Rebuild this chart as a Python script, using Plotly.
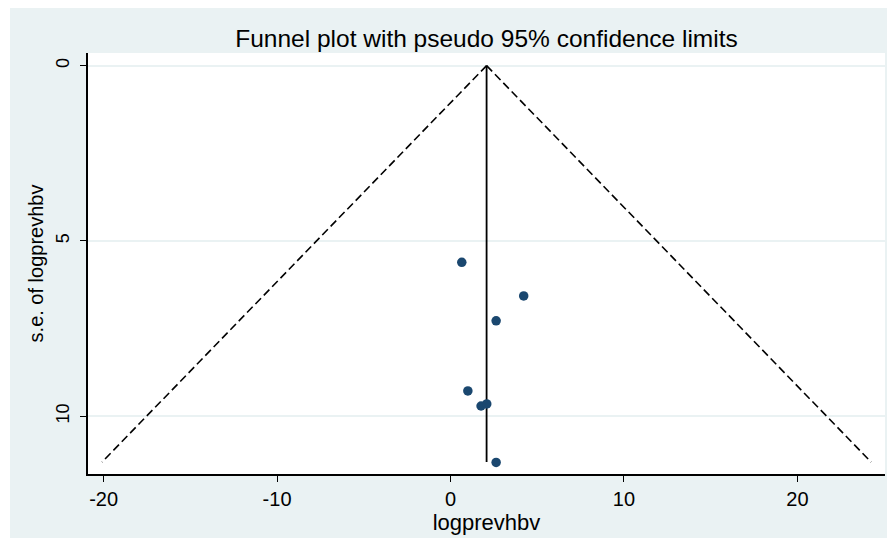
import plotly.graph_objects as go

# Study estimates (logprevhbv) and their standard errors
study_effect = [0.65, 4.22, 2.63, 1.00, 1.76, 2.09, 2.63]
study_se = [5.61, 6.57, 7.28, 9.28, 9.71, 9.65, 11.32]

# Pooled estimate line and pseudo 95% confidence limits
pooled_x = [2.08, 2.08]
pooled_se = [0.0, 11.31]
lower_x = [2.08, -20.09]
upper_x = [2.08, 24.25]
limit_se = [0.0, 11.31]

x_ticks = [-20, -10, 0, 10, 20]
x_tick_labels = ["-20", "-10", "0", "10", "20"]
y_ticks = [0, 5, 10]
y_tick_labels = ["0", "5", "10"]

BG = "#eaf2f3"
NAVY = "#1a476f"
FONT = "Liberation Sans, Arial, sans-serif"

W, H = 887, 530
L, R, T, B = 80, 10, 45, 64

fig = go.Figure()
fig.add_trace(go.Scatter(x=lower_x, y=limit_se, mode="lines",
                         line=dict(color="black", width=1.6, dash="8px,4px"),
                         hoverinfo="skip", showlegend=False))
fig.add_trace(go.Scatter(x=upper_x, y=limit_se, mode="lines",
                         line=dict(color="black", width=1.6, dash="8px,4px"),
                         hoverinfo="skip", showlegend=False))
fig.add_trace(go.Scatter(x=pooled_x, y=pooled_se, mode="lines",
                         line=dict(color="black", width=1.8),
                         hoverinfo="skip", showlegend=False))
fig.add_trace(go.Scatter(x=study_effect, y=study_se, mode="markers",
                         marker=dict(color=NAVY, size=9.5, line=dict(width=0)),
                         showlegend=False))

pw = W - L - R
ph = H - T - B
# thin white strip at left edge (reference border is slightly wider on the left)
fig.add_shape(type="rect", xref="paper", yref="paper",
              x0=-L / pw, x1=(2 - L) / pw, y0=-B / ph, y1=(H - B) / ph,
              fillcolor="white", line=dict(width=0), layer="below")
fig.add_shape(type="rect", xref="paper", yref="paper",
              x0=0, x1=1, y0=0, y1=1,
              fillcolor="white", line=dict(width=0), layer="below")

fig.update_layout(
    width=W, height=H,
    margin=dict(l=L, r=R, t=T, b=B),
    paper_bgcolor=BG, plot_bgcolor="white",
    font=dict(family=FONT, color="black"),
    title=dict(text="Funnel plot with pseudo 95% confidence limits",
               x=(L + pw / 2) / W, xanchor="center",
               y=1 - 30 / H, yanchor="middle", yref="container",
               font=dict(size=24.5, family=FONT, color="black")),
    xaxis=dict(range=[-20.9, 25.05], tickvals=x_ticks, ticktext=x_tick_labels,
               ticks="outside", ticklen=6, tickwidth=1.3, tickcolor="black",
               showline=True, linecolor="black", linewidth=1.5,
               showgrid=False, zeroline=False,
               tickfont=dict(size=20),
               title=dict(text="logprevhbv", font=dict(size=22), standoff=0)),
    yaxis=dict(range=[11.65, -0.36], tickvals=y_ticks, ticktext=y_tick_labels,
               tickangle=-90, ticklabelstandoff=4,
               ticks="outside", ticklen=6, tickwidth=1.3, tickcolor="black",
               showline=True, linecolor="black", linewidth=1.5,
               showgrid=True, gridcolor=BG, gridwidth=1.5, zeroline=False,
               tickfont=dict(size=18),
               title=dict(text="s.e. of logprevhbv", font=dict(size=20), standoff=4)),
)

fig.write_html("out.html")
